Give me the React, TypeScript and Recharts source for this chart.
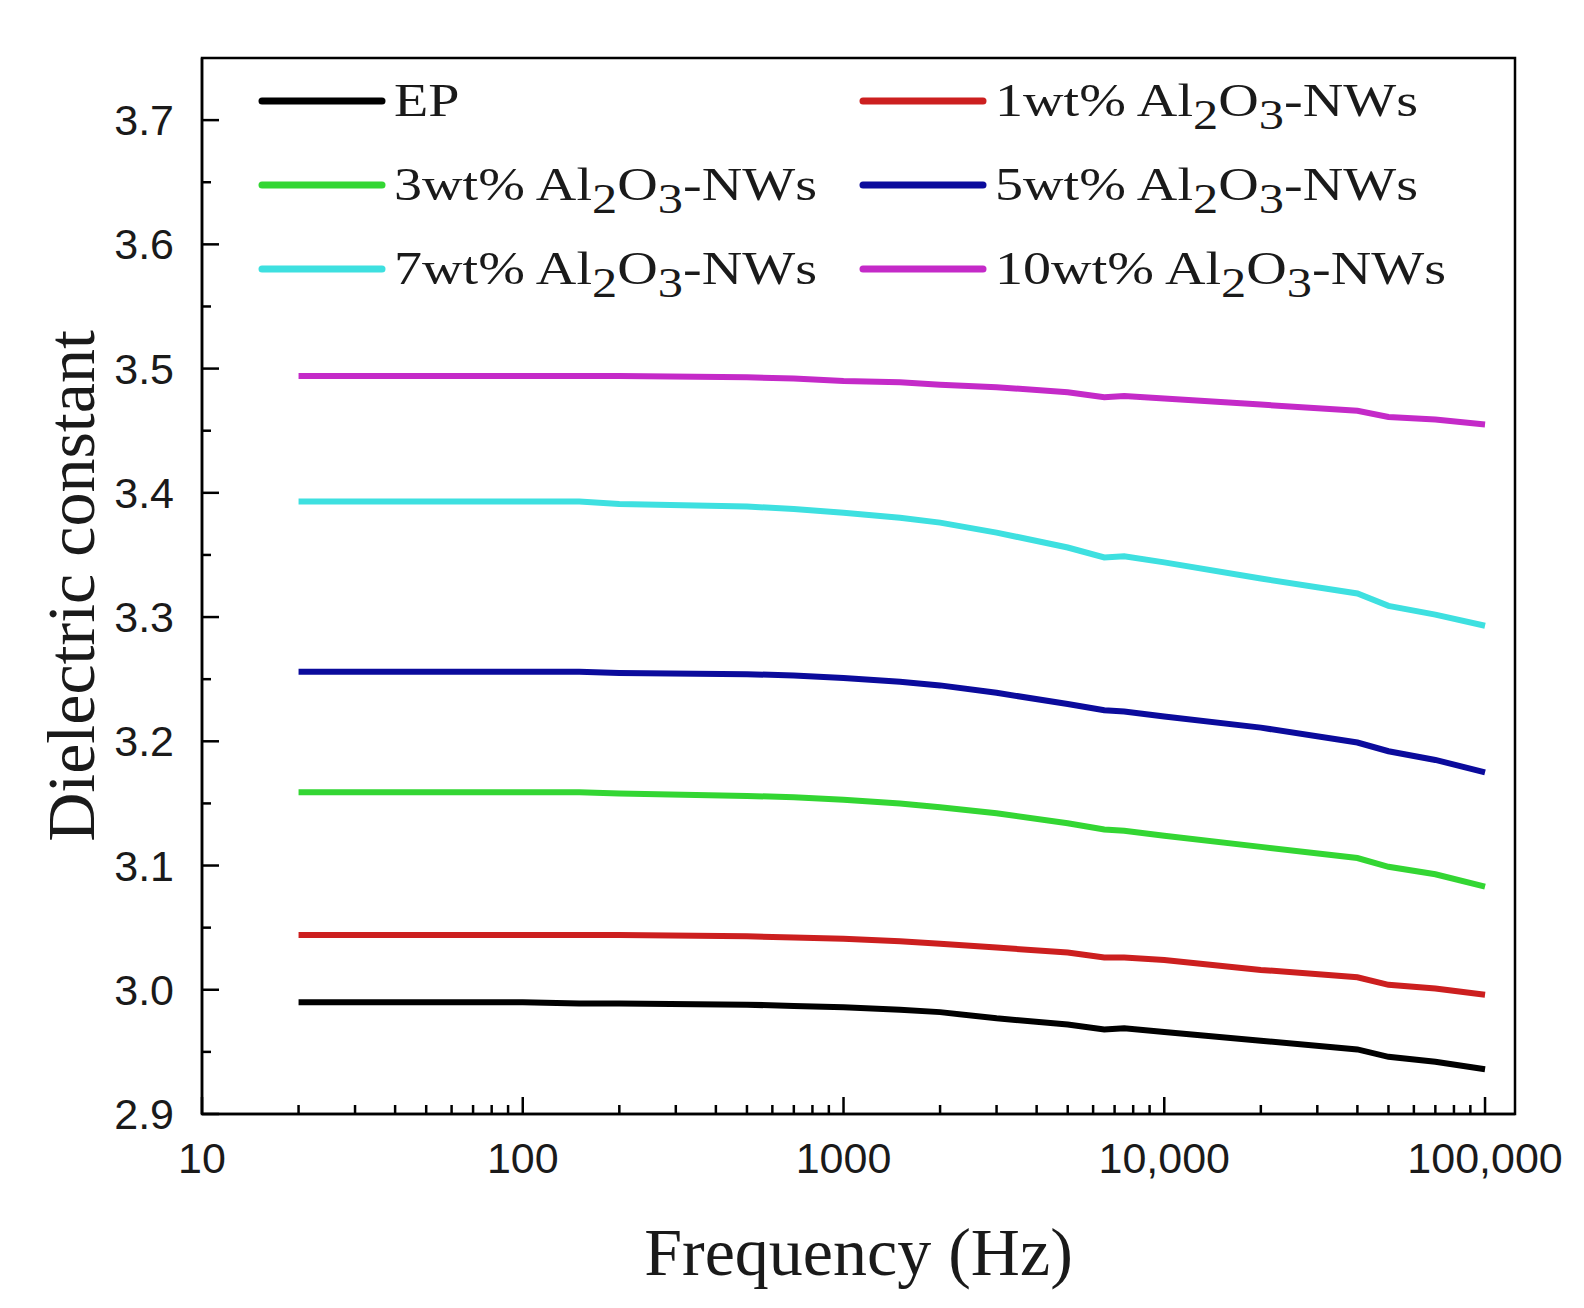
import React from "react";
import { LineChart, Line, XAxis, YAxis, Legend, ReferenceArea, Label } from "recharts";

// frequency in Hz (log axis)
const frequencies = [20, 50, 100, 150, 200, 500, 700, 1000, 1500, 2000, 3000, 5000, 6500, 7500, 10000, 20000, 40000, 50000, 70000, 100000];

// dielectric constant
const ep = [2.990, 2.990, 2.990, 2.989, 2.989, 2.988, 2.987, 2.986, 2.984, 2.982, 2.977, 2.972, 2.968, 2.969, 2.966, 2.959, 2.952, 2.946, 2.942, 2.936];
const wt1 = [3.044, 3.044, 3.044, 3.044, 3.044, 3.043, 3.042, 3.041, 3.039, 3.037, 3.034, 3.030, 3.026, 3.026, 3.024, 3.016, 3.010, 3.004, 3.001, 2.996];
const wt3 = [3.159, 3.159, 3.159, 3.159, 3.158, 3.156, 3.155, 3.153, 3.150, 3.147, 3.142, 3.134, 3.129, 3.128, 3.124, 3.115, 3.106, 3.099, 3.093, 3.083];
const wt5 = [3.256, 3.256, 3.256, 3.256, 3.255, 3.254, 3.253, 3.251, 3.248, 3.245, 3.239, 3.230, 3.225, 3.224, 3.220, 3.211, 3.199, 3.192, 3.185, 3.175];
const wt7 = [3.393, 3.393, 3.393, 3.393, 3.391, 3.389, 3.387, 3.384, 3.380, 3.376, 3.368, 3.356, 3.348, 3.349, 3.344, 3.331, 3.319, 3.309, 3.302, 3.293];
const wt10 = [3.494, 3.494, 3.494, 3.494, 3.494, 3.493, 3.492, 3.490, 3.489, 3.487, 3.485, 3.481, 3.477, 3.478, 3.476, 3.471, 3.466, 3.461, 3.459, 3.455];

const seriesKeys = ["ep", "wt1", "wt3", "wt5", "wt7", "wt10"];
const seriesValues = [ep, wt1, wt3, wt5, wt7, wt10];
const seriesPrefixes = ["EP", "1wt%", "3wt%", "5wt%", "7wt%", "10wt%"];
const seriesColors = ["#000000", "#cc1f1f", "#33d633", "#0b0b9c", "#3ee0e0", "#c42ac8"];

const xMajorTicks = [10, 100, 1000, 10000, 100000];
const xMinorSteps = [2, 3, 4, 5, 6, 7, 8, 9];
const yTicks = [2.9, 2.95, 3.0, 3.05, 3.1, 3.15, 3.2, 3.25, 3.3, 3.35, 3.4, 3.45, 3.5, 3.55, 3.6, 3.65, 3.7];

const data = frequencies.map((f, i) => {
  const row: Record<string, number> = { f };
  seriesKeys.forEach((k, s) => {
    row[k] = seriesValues[s][i];
  });
  return row;
});

const xTicks = [
  ...xMajorTicks,
  ...xMajorTicks.slice(0, 4).flatMap((d) => xMinorSteps.map((m) => d * m)),
].sort((a, b) => a - b);

const sans = "'Liberation Sans', Arial, sans-serif";
const serif = "'Liberation Serif', 'Times New Roman', serif";
const ink = "#1a1a1a";

const isDecade = (v: number) => Math.abs(Math.log10(v) - Math.round(Math.log10(v))) < 1e-9;
const fmtX = (v: number) => (v >= 10000 ? String(v).replace(/\B(?=(\d{3})+(?!\d))/g, ",") : String(v));

const XTick = (props: any) => {
  const { x, y, payload } = props;
  const major = isDecade(payload.value);
  return (
    <g>
      <line x1={x} x2={x} y1={y} y2={y - (major ? 17 : 9)} stroke="#000" strokeWidth={2.5} />
      {major && (
        <text x={x} y={y + 44} textAnchor="middle" dominantBaseline="central" fontSize={43} fontFamily={sans} fill={ink}>
          {fmtX(payload.value)}
        </text>
      )}
    </g>
  );
};

const YTick = (props: any) => {
  const { x, y, payload } = props;
  const major = Math.round(payload.value * 100) % 10 === 0;
  return (
    <g>
      <line x1={x} x2={x + (major ? 17 : 9)} y1={y} y2={y} stroke="#000" strokeWidth={2.5} />
      {major && (
        <text x={x - 28} y={y} textAnchor="end" dominantBaseline="central" fontSize={43} fontFamily={sans} fill={ink}>
          {payload.value.toFixed(1)}
        </text>
      )}
    </g>
  );
};

const sub = (t: string) => (
  <span style={{ fontSize: "0.9em", position: "relative", top: "0.32em" }}>{t}</span>
);

const LegendGrid = () => (
  <div
    style={{
      display: "grid",
      gridTemplateColumns: "601px 620px",
      fontFamily: serif,
      fontSize: 46,
      color: ink,
    }}
  >
    {seriesPrefixes.map((p, i) => (
      <div key={seriesKeys[i]} style={{ display: "flex", alignItems: "center", height: 84 }}>
        <svg width={128} height={12} style={{ display: "block" }}>
          <line x1={4} x2={124} y1={6} y2={6} stroke={seriesColors[i]} strokeWidth={7} strokeLinecap="round" />
        </svg>
        <span
          style={{
            marginLeft: 8,
            lineHeight: 1,
            whiteSpace: "nowrap",
            display: "inline-block",
            transform: "scaleX(1.22)",
            transformOrigin: "0 50%",
          }}
        >
          {i === 0 ? (
            p
          ) : (
            <>
              {p} Al{sub("2")}O{sub("3")}-NWs
            </>
          )}
        </span>
      </div>
    ))}
  </div>
);

export default function App() {
  return (
    <div style={{ position: "relative", width: 1560, height: 1290, background: "#fff" }}>
      <LineChart width={1560} height={1290} data={data} margin={{ top: 50, right: 53, left: 0, bottom: 0 }}>
        <XAxis
          dataKey="f"
          type="number"
          scale="log"
          domain={[10, 124000]}
          allowDataOverflow
          ticks={xTicks}
          interval={0}
          tickSize={0}
          tickMargin={0}
          tickLine={false}
          tick={<XTick />}
          height={184}
          axisLine={{ stroke: "#000", strokeWidth: 2.5 }}
        >
          <Label
            content={(p: any) => {
              const vb = p.viewBox;
              return (
                <text x={vb.x + vb.width / 2} y={vb.y + 138} textAnchor="middle" dominantBaseline="central" fontSize={68} fontFamily={serif} fill={ink}>
                  Frequency (Hz)
                </text>
              );
            }}
          />
        </XAxis>
        <YAxis
          type="number"
          domain={[2.9, 3.75]}
          allowDataOverflow
          ticks={yTicks}
          interval={0}
          tickSize={0}
          tickMargin={0}
          tickLine={false}
          tick={<YTick />}
          width={194}
          axisLine={{ stroke: "#000", strokeWidth: 2.5 }}
        >
          <Label
            content={(p: any) => {
              const vb = p.viewBox;
              const cx = vb.x + 63;
              const cy = vb.y + vb.height / 2;
              return (
                <text x={cx} y={cy} transform={`rotate(-90, ${cx}, ${cy})`} textAnchor="middle" dominantBaseline="central" fontSize={68} fontFamily={serif} fill={ink}>
                  Dielectric constant
                </text>
              );
            }}
          />
        </YAxis>
        <ReferenceArea x1={10} x2={124000} y1={2.9} y2={3.75} fill="none" stroke="#000" strokeWidth={2.5} ifOverflow="visible" />
        {seriesKeys.map((k, i) => (
          <Line
            key={k}
            dataKey={k}
            name={seriesPrefixes[i]}
            stroke={seriesColors[i]}
            strokeWidth={6}
            dot={false}
            type="linear"
            isAnimationActive={false}
          />
        ))}
        <Legend
          layout="vertical"
          align="center"
          verticalAlign="middle"
          wrapperStyle={{ left: 250, top: 51, width: 1230 }}
          content={() => <LegendGrid />}
        />
      </LineChart>
    </div>
  );
}
